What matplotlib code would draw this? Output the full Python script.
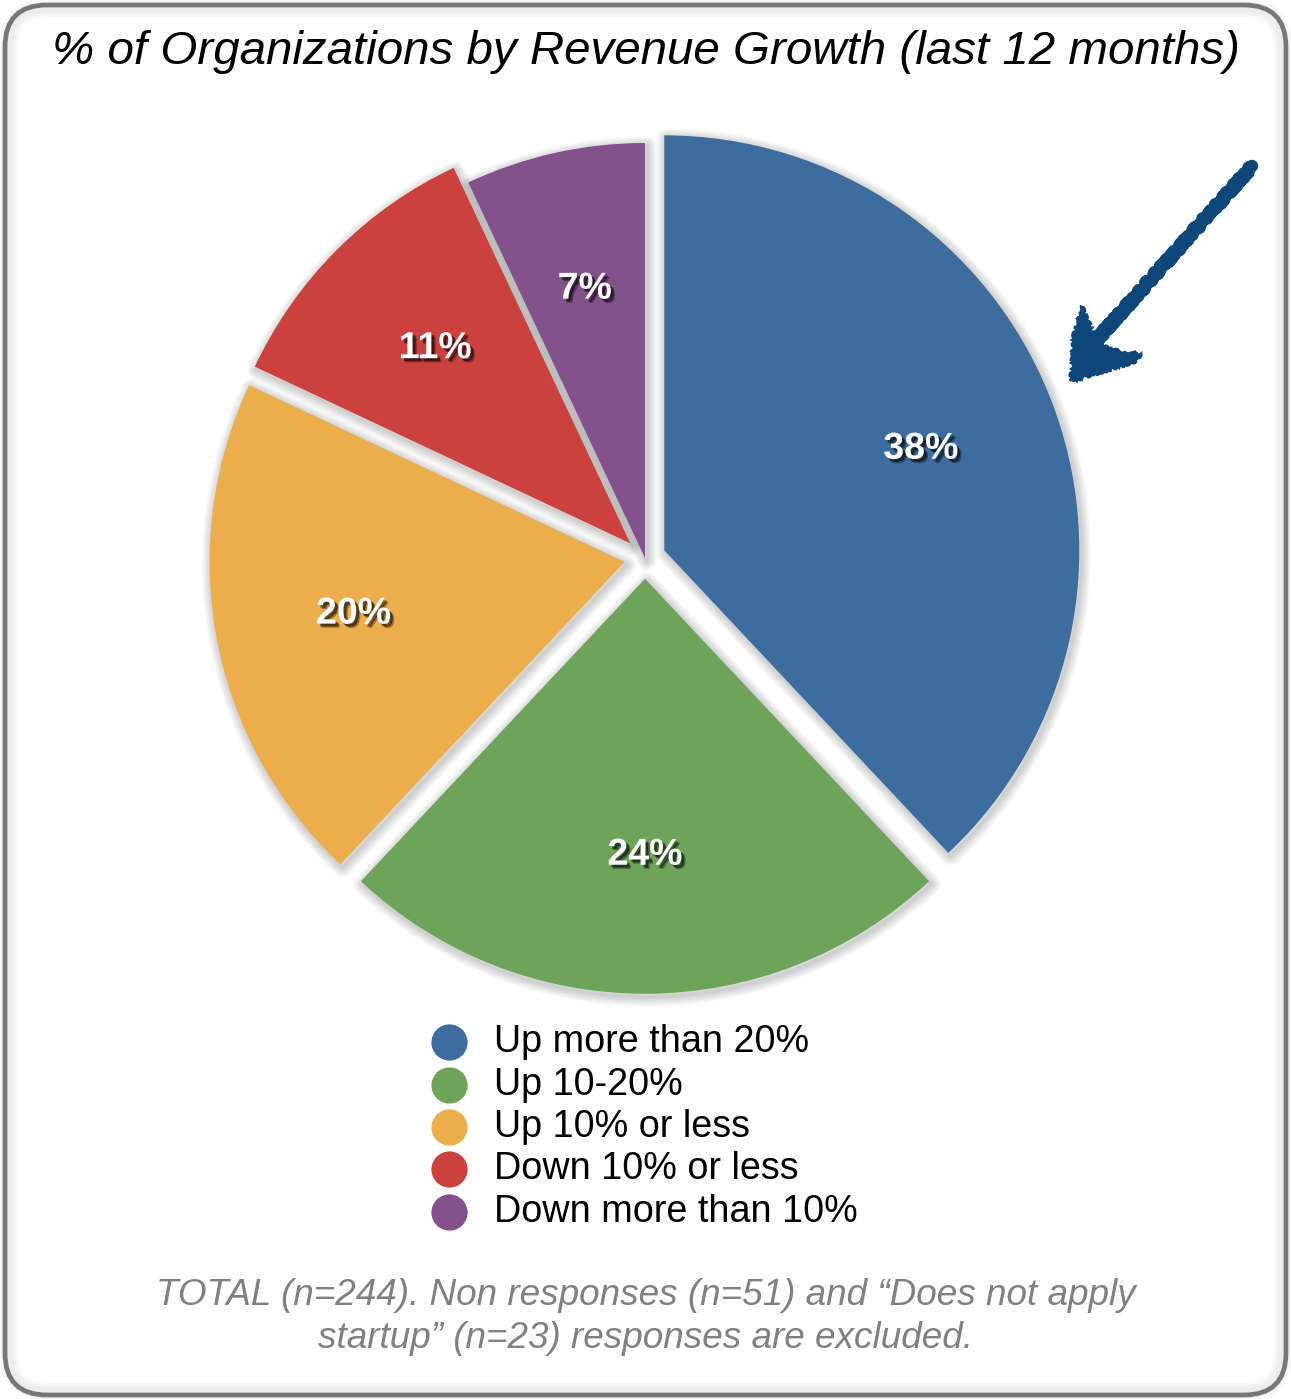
import matplotlib.pyplot as plt
import matplotlib.patheffects as pe
from matplotlib.patches import Wedge, FancyBboxPatch, Polygon

plt.rcParams['font.family'] = ['Liberation Sans', 'DejaVu Sans']

# Revenue growth shares
categories = ['Up more than 20%', 'Up 10-20%', 'Up 10% or less',
              'Down 10% or less', 'Down more than 10%']
shares = [38, 24, 20, 11, 7]
colors = ['#3d6c9e', '#6ea459', '#ecae4c', '#cb413d', '#83518c']
exploded = [True, True, True, True, False]

title = '% of Organizations by Revenue Growth (last 12 months)'
footnote = ('TOTAL (n=244). Non responses (n=51) and \u201cDoes not apply\n'
            'startup\u201d (n=23) responses are excluded.')

W, H = 1291, 1399
fig = plt.figure(figsize=(W / 100, H / 100), dpi=100)
ax = fig.add_axes([0, 0, 1, 1])

# rounded frame
frame = FancyBboxPatch((5, 4), W - 10, H - 9,
                       boxstyle='round,pad=0,rounding_size=42',
                       facecolor='white', edgecolor='#7f7f7f', lw=3.4, zorder=0)
ax.add_patch(frame)
for lw in [14, 10, 6]:
    ax.add_patch(FancyBboxPatch((8, 7), W - 16, H - 15,
                                boxstyle='round,pad=0,rounding_size=40',
                                facecolor='none', edgecolor='black', lw=lw,
                                alpha=0.025, zorder=0.5))

radius = 415
center = (645, H - 558)
explode = [0.05 * radius if e else 0 for e in exploded]

wedges, texts, autotexts = ax.pie(
    shares, colors=colors, startangle=90, counterclock=False,
    radius=radius, center=center, explode=explode,
    autopct='%.0f%%', pctdistance=0.665, frame=True,
    wedgeprops=dict(linewidth=0, zorder=3),
    textprops=dict(color='white', fontsize=27, fontweight='bold', zorder=5))
ax.set_xlim(0, W)
ax.set_ylim(0, H)
ax.set_aspect('equal')
ax.axis('off')

# soft drop shadow under each wedge (linewidths in points)
for w in wedges:
    cx, cy = w.center
    for lw in range(2, 16, 2):
        ax.add_patch(Wedge((cx + 2, cy - 3), w.r, w.theta1, w.theta2,
                           facecolor='none', edgecolor='black', lw=lw,
                           alpha=0.028, zorder=2, joinstyle='round'))

for t in autotexts:
    t.set_path_effects([pe.SimplePatchShadow(offset=(3, -3),
                                             shadow_rgbFace='black', alpha=0.35),
                        pe.SimplePatchShadow(offset=(2, -2),
                                             shadow_rgbFace='black', alpha=0.5),
                        pe.Normal()])

ax.text(W / 2, H - 52, title, ha='center', va='center', fontsize=34.2,
        style='italic', color='black')

# legend rows
row_y = [1042, 1085, 1127, 1169, 1212]
for name, c, py in zip(categories, colors, row_y):
    ax.scatter([449], [H - py], s=680, color=c, zorder=4, linewidths=0)
    ax.text(494, H - py, name, ha='left', va='center', fontsize=27.2,
            color='black')

ax.text(W / 2, H - 1317, footnote, ha='center', va='center', fontsize=26.6,
        style='italic', color='#808080', linespacing=1.3)

# hand-drawn arrow pointing at the largest slice
arrow_color = '#0d4678'
shaft, = ax.plot([1252, 1093], [H - 166, H - 344], color=arrow_color, lw=9,
                 solid_capstyle='round', zorder=6)
shaft.set_sketch_params(scale=2, length=10, randomness=6)
head = Polygon([(1071, H - 381), (1074, H - 335), (1082, H - 307),
                (1092, H - 330), (1096, H - 343), (1112, H - 350),
                (1141, H - 354), (1134, H - 362)],
               closed=True, facecolor=arrow_color, edgecolor=arrow_color,
               lw=2, zorder=6)
head.set_sketch_params(scale=1.5, length=8, randomness=6)
ax.add_patch(head)

fig.savefig('out.png', dpi=100)
